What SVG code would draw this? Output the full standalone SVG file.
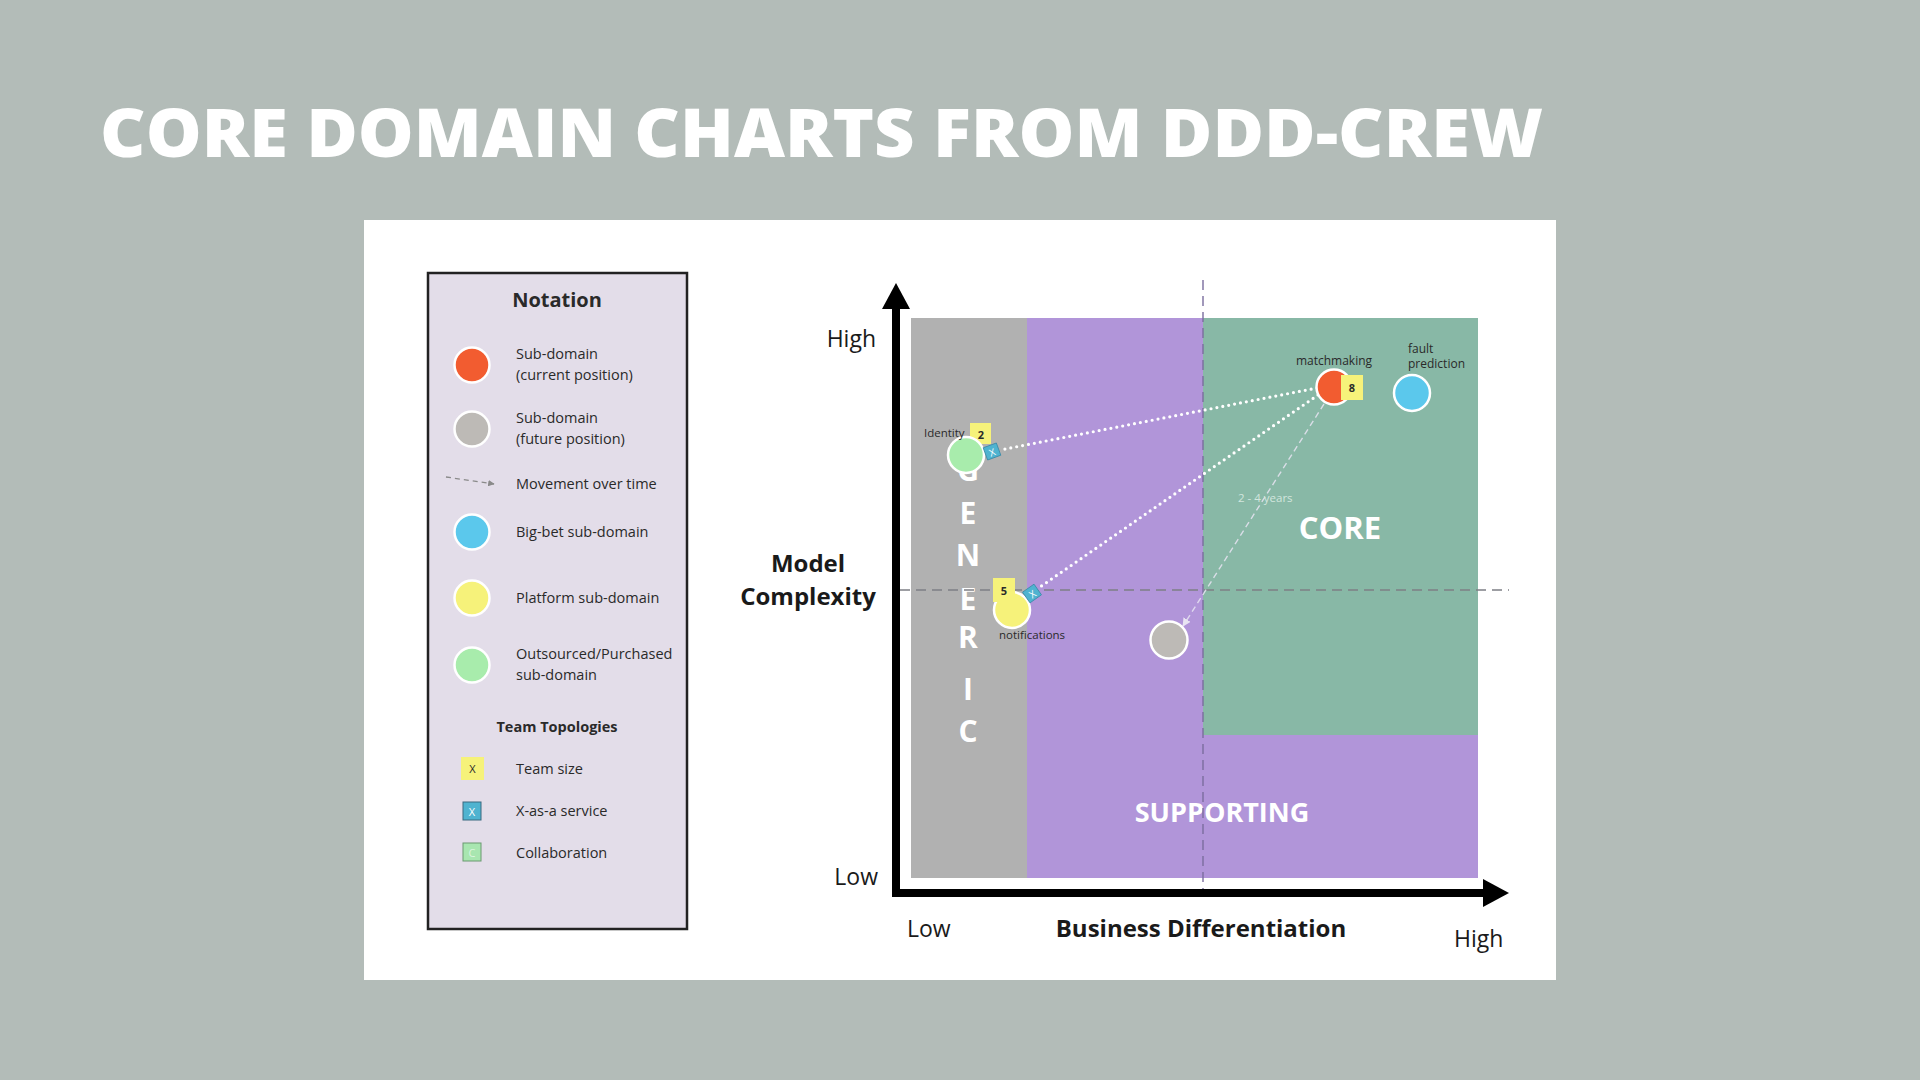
<svg xmlns="http://www.w3.org/2000/svg" width="1920" height="1080" viewBox="0 0 1920 1080">
<defs>
<style>
.t{font-family:"Open Sans","Liberation Sans",sans-serif;fill:#2a2a2a}
.leg{font-size:14.5px}
.b{font-weight:700}
.ax{font-size:23px;fill:#1a1a1a}
.axb{font-size:24px;font-weight:700;fill:#1a1a1a}
.zone{font-family:"Open Sans","Liberation Sans",sans-serif;font-weight:700;fill:#ffffff}
.small{font-size:12px}
.node{stroke:#ffffff;stroke-width:2.5}
.dot{fill:none;stroke:#ffffff;stroke-width:3.2;stroke-linecap:round;stroke-dasharray:0 6}
</style>
<marker id="ahw" viewBox="0 0 10 10" refX="9" refY="5" markerWidth="6" markerHeight="6" orient="auto"><path d="M0,0 L10,5 L0,10 z" fill="#e8e4f2"/></marker>
<marker id="ahg" viewBox="0 0 10 10" refX="9" refY="5" markerWidth="5" markerHeight="5" orient="auto"><path d="M0,0 L10,5 L0,10 z" fill="#8a8a8a"/></marker>
</defs>
<rect x="0" y="0" width="1920" height="1080" fill="#b3bcb8"/>
<text x="100" y="157" font-family="Open Sans,Liberation Sans,sans-serif" font-weight="800" font-size="68" fill="#ffffff" textLength="1443" lengthAdjust="spacingAndGlyphs">CORE DOMAIN CHARTS FROM DDD-CREW</text>
<rect x="364" y="220" width="1192" height="760" fill="#ffffff"/>

<g id="legend">
<rect x="428" y="273" width="259" height="656" fill="#e3dde9" stroke="#222222" stroke-width="2.5"/>
<text class="t b" x="557" y="307" font-size="20" text-anchor="middle">Notation</text>
<circle class="node" cx="472" cy="365" r="17.5" fill="#f25c30"/>
<text class="t leg" x="516" y="359">Sub-domain</text>
<text class="t leg" x="516" y="380">(current position)</text>
<circle class="node" cx="472" cy="429" r="17.5" fill="#bdbab6"/>
<text class="t leg" x="516" y="423">Sub-domain</text>
<text class="t leg" x="516" y="444">(future position)</text>
<line x1="446" y1="477" x2="494" y2="484" stroke="#8a8a8a" stroke-width="1.3" stroke-dasharray="5 4" marker-end="url(#ahg)"/>
<text class="t leg" x="516" y="489">Movement over time</text>
<circle class="node" cx="472" cy="532" r="17.5" fill="#5bc8ec"/>
<text class="t leg" x="516" y="537">Big-bet sub-domain</text>
<circle class="node" cx="472" cy="598" r="17.5" fill="#f6f27a"/>
<text class="t leg" x="516" y="603">Platform sub-domain</text>
<circle class="node" cx="472" cy="665" r="17.5" fill="#a8ecac"/>
<text class="t leg" x="516" y="659">Outsourced/Purchased</text>
<text class="t leg" x="516" y="680">sub-domain</text>
<text class="t b" x="557" y="732" font-size="14.5" text-anchor="middle">Team Topologies</text>
<rect x="461" y="757" width="23" height="23" fill="#f6f27a"/>
<text class="t" x="472.5" y="773" font-size="11" text-anchor="middle">X</text>
<text class="t leg" x="516" y="774">Team size</text>
<rect x="463" y="802" width="18" height="18" fill="#4fb3d0" stroke="#3a6a80" stroke-width="1"/>
<text x="472" y="815.5" font-family="Open Sans,Liberation Sans,sans-serif" font-size="11" fill="#ffffff" text-anchor="middle">X</text>
<text class="t leg" x="516" y="816">X-as-a service</text>
<rect x="463" y="843" width="18" height="18" fill="#a8e6b0" stroke="#6a9a70" stroke-width="1"/>
<text x="472" y="856.5" font-family="Open Sans,Liberation Sans,sans-serif" font-size="11" fill="#ffffff" fill-opacity="0.6" text-anchor="middle">C</text>
<text class="t leg" x="516" y="858">Collaboration</text>
</g>

<g id="zones">
<rect id="zone-generic" x="911" y="318" width="116" height="560" fill="#b1b1b1"/>
<rect id="zone-supporting" x="1027" y="318" width="451" height="560" fill="#b195d9"/>
<rect id="zone-core" x="1203" y="318" width="275" height="417" fill="#88b8a6"/>
<text class="zone" x="1340" y="539" font-size="31" text-anchor="middle">CORE</text>
<text class="zone" x="1222" y="822" font-size="27" text-anchor="middle">SUPPORTING</text>
<g class="zone" font-size="30" text-anchor="middle">
<text x="968" y="481">G</text>
<text x="968" y="524">E</text>
<text x="968" y="566">N</text>
<text x="968" y="610">E</text>
<text x="968" y="648">R</text>
<text x="968" y="700">I</text>
<text x="968" y="742">C</text>
</g>
</g>

<g id="guides">
<line x1="900" y1="590" x2="1509" y2="590" stroke="#7d7f85" stroke-width="1.4" stroke-dasharray="10 6"/>
<line x1="1203" y1="280" x2="1203" y2="890" stroke="#7b6d9e" stroke-width="1.4" stroke-dasharray="10 6"/>
</g>

<g id="axes">
<line x1="896" y1="305" x2="896" y2="897" stroke="#000000" stroke-width="8"/>
<polygon points="882,309 896,283 910,309" fill="#000000"/>
<line x1="892" y1="893" x2="1486" y2="893" stroke="#000000" stroke-width="8"/>
<polygon points="1483,879 1509,893 1483,907" fill="#000000"/>
<text class="t ax" x="876" y="347" text-anchor="end">High</text>
<text class="t ax" x="878" y="885" text-anchor="end">Low</text>
<text class="t axb" x="808" y="572" text-anchor="middle">Model</text>
<text class="t axb" x="808" y="605" text-anchor="middle">Complexity</text>
<text class="t ax" x="907" y="937">Low</text>
<text class="t axb" x="1201" y="937" text-anchor="middle">Business Differentiation</text>
<text class="t ax" x="1454" y="947">High</text>
</g>

<g id="connectors">
<line class="dot" x1="1317" y1="388" x2="1000" y2="450"/>
<line class="dot" x1="1318" y1="395" x2="1040" y2="587"/>
<line x1="1324" y1="404" x2="1183" y2="626" stroke="#e8e4f2" stroke-opacity="0.85" stroke-width="1.4" stroke-dasharray="6 4" marker-end="url(#ahw)"/>
<text x="1238" y="502" font-family="Open Sans,Liberation Sans,sans-serif" font-size="11.5" fill="#d2e6de">2 - 4 years</text>
</g>

<g id="node-identity">
<rect x="970" y="423" width="21" height="21" fill="#f6f27a"/>
<text class="t b" x="981" y="439" font-size="11" text-anchor="middle">2</text>
<circle class="node" cx="966" cy="455" r="18" fill="#a8ecac"/>
<rect x="985" y="445" width="14" height="13" fill="#4fb3d0" stroke="#3a8aa8" stroke-width="0.8" transform="rotate(-20 992 451.5)"/>
<text x="992" y="456" font-family="Open Sans,Liberation Sans,sans-serif" font-size="10" fill="#ffffff" text-anchor="middle" transform="rotate(-20 992 451.5)">X</text>
<text class="t" x="924" y="437" font-size="11.5">Identity</text>
</g>

<g id="node-notifications">
<circle class="node" cx="1012" cy="610" r="18" fill="#f6f27a"/>
<rect x="993" y="578" width="22" height="24" fill="#f6f27a"/>
<text class="t b" x="1004" y="595" font-size="11" text-anchor="middle">5</text>
<rect x="1025" y="587" width="14" height="13" fill="#4fb3d0" stroke="#3a8aa8" stroke-width="0.8" transform="rotate(-35 1032 593.5)"/>
<text x="1032" y="598" font-family="Open Sans,Liberation Sans,sans-serif" font-size="10" fill="#ffffff" text-anchor="middle" transform="rotate(-35 1032 593.5)">X</text>
<text class="t" x="999" y="639" font-size="11.5">notifications</text>
</g>

<g id="node-future">
<circle class="node" cx="1169" cy="640" r="18.5" fill="#bdbab6"/>
</g>

<g id="node-matchmaking">
<circle class="node" cx="1334" cy="387" r="17.5" fill="#f25c30"/>
<rect x="1341" y="375" width="22" height="25" fill="#f6f27a"/>
<text class="t b" x="1352" y="392" font-size="11" text-anchor="middle">8</text>
<text class="t" x="1334" y="365" font-size="12" text-anchor="middle">matchmaking</text>
</g>

<g id="node-fault-prediction">
<circle class="node" cx="1412" cy="393" r="18" fill="#5bc8ec"/>
<text class="t" x="1408" y="353" font-size="12">fault</text>
<text class="t" x="1408" y="368" font-size="12">prediction</text>
</g>
</svg>
